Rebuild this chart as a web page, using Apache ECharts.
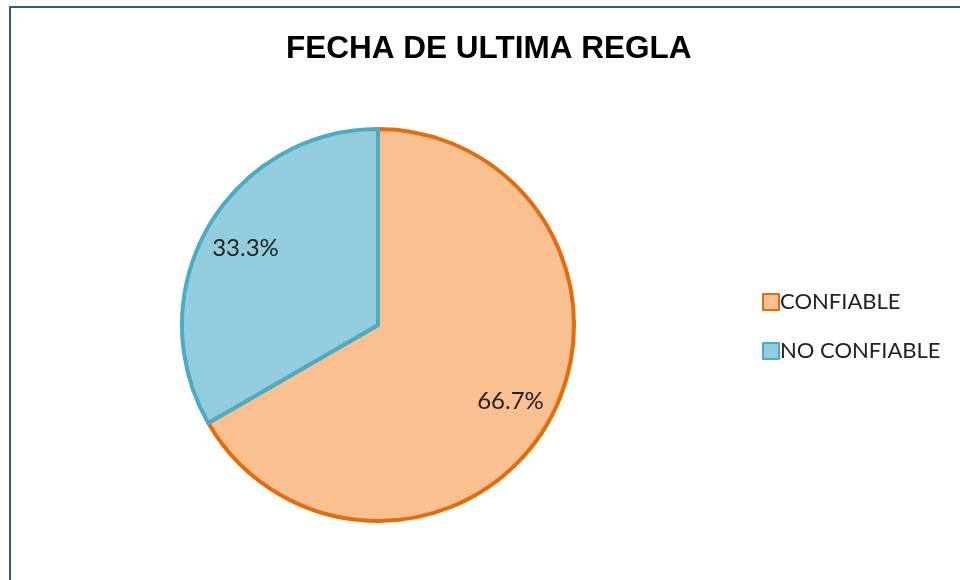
<!DOCTYPE html>
<html>
<head>
<meta charset="utf-8">
<script src="https://cdn.jsdelivr.net/npm/echarts@6/dist/echarts.min.js"></script>
<style>
  html, body { margin: 0; padding: 0; background: #fff; }
  #chart { width: 960px; height: 580px; }
</style>
</head>
<body>
<div id="chart"></div>
<script>
// data
const categories = ["CONFIABLE", "NO CONFIABLE"];
const values = [2, 1];
const fillColors = ["#fac090", "#93cddd"];
const lineColors = ["#e46c0a", "#4bacc6"];

const pieData = categories.map((name, i) => ({
  name: name,
  value: values[i],
  itemStyle: { color: fillColors[i], borderColor: lineColors[i] }
}));

const chart = echarts.init(document.getElementById("chart"));

const option = {
  animation: false,
  backgroundColor: "#fff",
  title: {
    text: "FECHA DE ULTIMA REGLA",
    left: 281,
    top: 28,
    textStyle: {
      fontFamily: "Liberation Sans",
      fontWeight: "bold",
      fontSize: 31.5,
      color: "#000"
    }
  },
  legend: {
    orient: "vertical",
    left: 757,
    top: 286,
    itemGap: 27,
    itemWidth: 16,
    itemHeight: 16,
    icon: "rect",
    textStyle: {
      fontFamily: "Lato",
      fontSize: 22,
      color: "#222",
      padding: [0, 0, 0, -4]
    },
    data: categories
  },
  graphic: [
    {
      type: "rect",
      shape: { x: 10, y: 7, width: 1000, height: 700 },
      style: { fill: null, stroke: "#2e5a8c", lineWidth: 2 },
      silent: true
    }
  ],
  series: [
    {
      name: "FECHA DE ULTIMA REGLA",
      type: "pie",
      center: [378, 325],
      radius: [0, 196],
      startAngle: 90,
      clockwise: true,
      itemStyle: { borderWidth: 4 },
      label: { show: false },
      labelLine: { show: false },
      emphasis: { disabled: true },
      data: pieData
    },
    {
      // transparent ring to place the percent labels further out
      name: "labels",
      type: "pie",
      center: [378, 325],
      radius: [104, 196],
      startAngle: 90,
      clockwise: true,
      silent: true,
      legendHoverLink: false,
      itemStyle: { color: "transparent", borderWidth: 0 },
      label: {
        show: true,
        position: "inside",
        formatter: p => p.percent.toFixed(1) + "%",
        fontFamily: "Lato",
        fontSize: 24,
        color: "#222"
      },
      labelLine: { show: false },
      emphasis: { disabled: true },
      data: categories.map((name, i) => ({ name: name + " ", value: values[i] }))
    }
  ]
};

chart.setOption(option);
</script>
</body>
</html>
